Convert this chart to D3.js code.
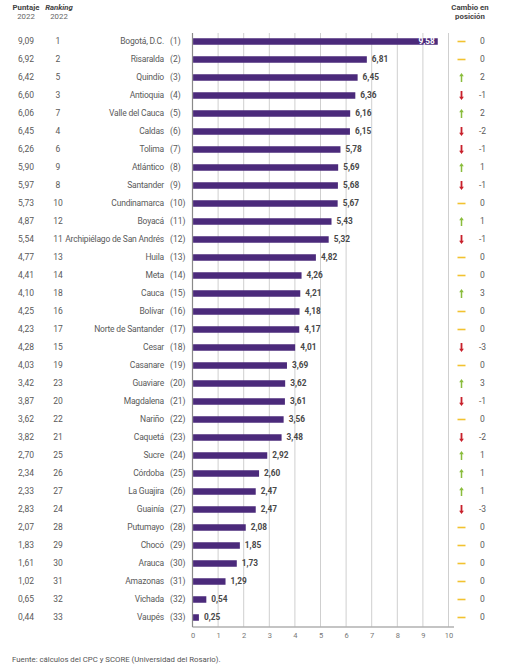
<!DOCTYPE html>
<html>
<head>
<meta charset="utf-8">
<script src="https://cdn.jsdelivr.net/npm/d3@7"></script>
<style>
  html, body { margin: 0; padding: 0; background: #fff; }
  svg { display: block; font-family: Roboto, "Open Sans", sans-serif; }
</style>
</head>
<body>
<svg id="chart" width="505" height="666"></svg>
<script>
const departments = ["Bogotá, D.C.", "Risaralda", "Quindío", "Antioquia", "Valle del Cauca", "Caldas", "Tolima", "Atlántico", "Santander", "Cundinamarca", "Boyacá", "Archipiélago de San Andrés", "Huila", "Meta", "Cauca", "Bolívar", "Norte de Santander", "Cesar", "Casanare", "Guaviare", "Magdalena", "Nariño", "Caquetá", "Sucre", "Córdoba", "La Guajira", "Guainía", "Putumayo", "Chocó", "Arauca", "Amazonas", "Vichada", "Vaupés"];
const values2023 = [9.58, 6.81, 6.45, 6.36, 6.16, 6.15, 5.78, 5.69, 5.68, 5.67, 5.43, 5.32, 4.82, 4.26, 4.21, 4.18, 4.17, 4.01, 3.69, 3.62, 3.61, 3.56, 3.48, 2.92, 2.60, 2.47, 2.47, 2.08, 1.85, 1.73, 1.29, 0.54, 0.25];
const score2022 = [9.09, 6.92, 6.42, 6.60, 6.06, 6.45, 6.26, 5.90, 5.97, 5.73, 4.87, 5.54, 4.77, 4.41, 4.10, 4.25, 4.23, 4.28, 4.03, 3.42, 3.87, 3.62, 3.82, 2.70, 2.34, 2.33, 2.83, 2.07, 1.83, 1.61, 1.02, 0.65, 0.44];
const rank2022 = [1, 2, 5, 3, 7, 4, 6, 9, 8, 10, 12, 11, 13, 14, 18, 16, 17, 15, 19, 23, 20, 22, 21, 25, 26, 27, 24, 28, 29, 30, 31, 32, 33];
const rankChange = [0, 0, 2, -1, 2, -2, -1, 1, -1, 0, 1, -1, 0, 0, 3, 0, 0, -3, 0, 3, -1, 0, -2, 1, 1, 1, -3, 0, 0, 0, 0, 0, 0];
const xTicks = [0, 1, 2, 3, 4, 5, 6, 7, 8, 9, 10];

const rows = departments.map((d, i) => ({
  name: d, rank: i + 1, value: values2023[i], prev: score2022[i], prevRank: rank2022[i], change: rankChange[i]
}));

const fmt = v => d3.format(".2f")(v).replace(".", ",");
const svg = d3.select("#chart");
const textCol = "#5a5a5a";

const x = d3.scaleLinear().domain([0, 10]).range([192.5, 448.5]);
const y = d3.scalePoint().domain(departments).range([41.5, 617.5]);
const plotTop = 33, plotBottom = 627;
const barH = 6.5;

// gridlines
svg.append("g").selectAll("line").data(xTicks.slice(1)).join("line")
  .attr("x1", d => x(d)).attr("x2", d => x(d))
  .attr("y1", plotTop).attr("y2", plotBottom)
  .attr("stroke", "#cfcfcf").attr("stroke-width", 1);

// bottom axis
const xAxis = d3.axisBottom(x).tickValues(xTicks).tickSize(0).tickPadding(6).tickFormat(d => d);
const gx = svg.append("g").attr("transform", `translate(0,${plotBottom})`).call(xAxis);
gx.select(".domain").attr("stroke", "#b0b0b0").attr("stroke-width", 1.5).attr("d", `M${x(0)},0H454`);
gx.selectAll("text").attr("fill", "#777").attr("font-size", 7.5).attr("font-family", "Roboto, sans-serif");

// left axis line
svg.append("line").attr("x1", x(0)).attr("x2", x(0)).attr("y1", plotTop).attr("y2", plotBottom)
  .attr("stroke", "#8a8a8a").attr("stroke-width", 1.2);

// bars
svg.append("g").selectAll("rect").data(rows).join("rect")
  .attr("x", x(0) + 0.6)
  .attr("y", d => y(d.name) - barH / 2)
  .attr("width", d => x(d.value) - x(0) - 0.6)
  .attr("height", barH)
  .attr("fill", "#4b2a7b");

// bar value labels
svg.append("g").selectAll("text").data(rows).join("text")
  .attr("x", (d, i) => i === 0 ? x(d.value) - 3 : x(d.value) + 5)
  .attr("y", d => y(d.name))
  .attr("dy", "0.35em")
  .attr("text-anchor", (d, i) => i === 0 ? "end" : "start")
  .attr("font-size", 8.3).attr("font-weight", "bold")
  .attr("fill", (d, i) => i === 0 ? "#fff" : "#484848")
  .text(d => fmt(d.value));

// department names
svg.append("g").selectAll("text").data(rows).join("text")
  .attr("x", 164).attr("y", d => y(d.name)).attr("dy", "0.35em")
  .attr("text-anchor", "end").attr("font-size", 8.5).attr("letter-spacing", -0.2).attr("fill", textCol)
  .text(d => d.name);
svg.append("g").selectAll("text").data(rows).join("text")
  .attr("x", 170).attr("y", d => y(d.name)).attr("dy", "0.35em")
  .attr("text-anchor", "start").attr("font-size", 8.5).attr("fill", textCol)
  .text(d => `(${d.rank})`);

// left columns
svg.append("g").selectAll("text").data(rows).join("text")
  .attr("x", 26).attr("y", d => y(d.name)).attr("dy", "0.35em")
  .attr("text-anchor", "middle").attr("font-size", 8.5).attr("fill", textCol)
  .text(d => fmt(d.prev));
svg.append("g").selectAll("text").data(rows).join("text")
  .attr("x", 58).attr("y", d => y(d.name)).attr("dy", "0.35em")
  .attr("text-anchor", "middle").attr("font-size", 8.5).attr("fill", textCol)
  .text(d => d.prevRank);

// headers
const hdr = svg.append("g").attr("fill", "#444").attr("font-size", 7.8).attr("text-anchor", "middle");
hdr.append("text").attr("x", 26).attr("y", 10).attr("font-weight", "bold").text("Puntaje");
hdr.append("text").attr("x", 26).attr("y", 19).attr("fill", "#666").text("2022");
hdr.append("text").attr("x", 59).attr("y", 10).attr("font-weight", "bold").attr("font-style", "italic").text("Ranking");
hdr.append("text").attr("x", 59).attr("y", 19).attr("fill", "#666").text("2022");
hdr.append("text").attr("x", 470).attr("y", 10).attr("font-weight", "bold").text("Cambio en");
hdr.append("text").attr("x", 470).attr("y", 19).attr("font-weight", "bold").text("posición");

// change indicators
const ind = svg.append("g").selectAll("g").data(rows).join("g")
  .attr("transform", d => `translate(461.5,${y(d.name)})`);
ind.filter(d => d.change === 0).append("line")
  .attr("x1", -4).attr("x2", 4).attr("y1", 0).attr("y2", 0)
  .attr("stroke", "#f2c230").attr("stroke-width", 1.6);
ind.filter(d => d.change > 0).append("path")
  .attr("d", "M0,-4.5 L-2.3,-1.3 L-0.75,-1.3 L-0.75,4.5 L0.75,4.5 L0.75,-1.3 L2.3,-1.3 Z")
  .attr("fill", "#8abd3c");
ind.filter(d => d.change < 0).append("path")
  .attr("d", "M0,4.5 L-2.4,1.2 L-0.9,1.2 L-0.9,-4.5 L0.9,-4.5 L0.9,1.2 L2.4,1.2 Z")
  .attr("fill", "#c8202b");
ind.append("text")
  .attr("x", 21).attr("dy", "0.35em").attr("text-anchor", "middle")
  .attr("font-size", 8.5).attr("fill", textCol)
  .text(d => d.change);

// source
svg.append("text").attr("x", 12).attr("y", 662).attr("font-size", 7.8).attr("fill", "#555")
  .text("Fuente: cálculos del CPC y SCORE (Universidad del Rosario).");
</script>
</body>
</html>
